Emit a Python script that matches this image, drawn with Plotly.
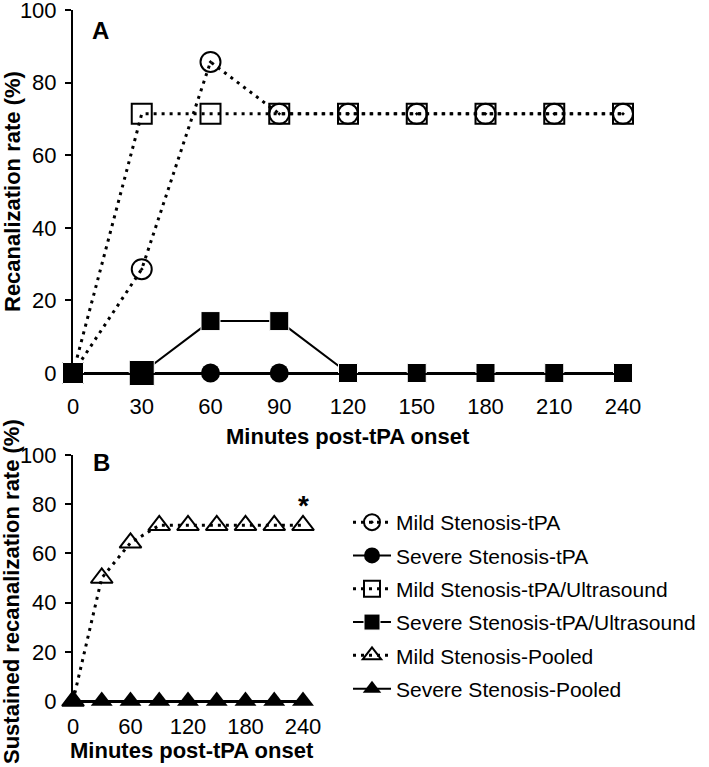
import plotly.graph_objects as go

W, H = 709, 767

# ---------------- data ----------------
minutes = [0, 30, 60, 90, 120, 150, 180, 210, 240]
mild_tpa = [0, 28.6, 85.7, 71.4, 71.4, 71.4, 71.4, 71.4, 71.4]
severe_tpa = [0, 0, 0, 0, 0, 0, 0, 0, 0]
mild_tpa_us = [0, 71.4, 71.4, 71.4, 71.4, 71.4, 71.4, 71.4, 71.4]
severe_tpa_us = [0, 0, 14.3, 14.3, 0, 0, 0, 0, 0]
mild_pooled = [0, 50.0, 64.3, 71.4, 71.4, 71.4, 71.4, 71.4, 71.4]
severe_pooled = [0, 0, 0, 0, 0, 0, 0, 0, 0]

top_xticks = [0, 30, 60, 90, 120, 150, 180, 210, 240]
bottom_xticks = [0, 60, 120, 180, 240]
yticks = [0, 20, 40, 60, 80, 100]
star_pos = (240, 79.5)

FONT = "Arial, Liberation Sans, sans-serif"
DOT = "3px,5px"


def px_x(p):
    return p / W


def px_y(p):
    return 1 - p / H


fig = go.Figure()

common = dict(mode="lines+markers", cliponaxis=False)

fig.add_trace(go.Scatter(
    x=minutes, y=mild_tpa, name="Mild Stenosis-tPA", legendgroup="a",
    line=dict(color="black", width=3, dash=DOT),
    marker=dict(symbol="circle-open-dot", size=20, color="black", opacity=1, line=dict(width=2)),
    xaxis="x", yaxis="y", **common))
fig.add_trace(go.Scatter(
    x=minutes, y=severe_tpa, name="Severe Stenosis-tPA", legendgroup="b",
    line=dict(color="black", width=2),
    marker=dict(symbol="circle", size=19, color="black", opacity=1),
    xaxis="x", yaxis="y", **common))
fig.add_trace(go.Scatter(
    x=minutes, y=mild_tpa_us, name="Mild Stenosis-tPA/Ultrasound", legendgroup="c",
    line=dict(color="black", width=3, dash=DOT),
    marker=dict(symbol="square-open", size=20, color="black", opacity=1, line=dict(width=2)),
    xaxis="x", yaxis="y", **common))
fig.add_trace(go.Scatter(
    x=minutes, y=severe_tpa_us, name="Severe Stenosis-tPA/Ultrasound", legendgroup="d",
    line=dict(color="black", width=2),
    marker=dict(symbol="square", size=[21, 25, 19, 19, 19, 19, 19, 19, 19], color="black", opacity=1),
    xaxis="x", yaxis="y", **common))
fig.add_trace(go.Scatter(
    x=minutes, y=mild_pooled, name="Mild Stenosis-Pooled", legendgroup="e",
    line=dict(color="black", width=3, dash=DOT),
    marker=dict(symbol="triangle-up-open", size=19, color="black", opacity=1, line=dict(width=2)),
    xaxis="x2", yaxis="y2", **common))
fig.add_trace(go.Scatter(
    x=minutes, y=severe_pooled, name="Severe Stenosis-Pooled", legendgroup="f",
    line=dict(color="black", width=2),
    marker=dict(symbol="triangle-up", size=19, color="black", opacity=1),
    xaxis="x2", yaxis="y2", **common))

xax = dict(range=[0, 240], showline=True, linewidth=2, linecolor="black",
           showgrid=False, zeroline=False, ticks="", tickfont=dict(size=22, color="black", family=FONT),
           automargin=False, fixedrange=True, ticklabeloverflow="allow")
yax = dict(range=[0, 100], tickvals=yticks, showline=True, linewidth=2, linecolor="black",
           showgrid=False, zeroline=False, ticks="outside", ticklen=6, tickwidth=2, tickcolor="black",
           tickfont=dict(size=22, color="black", family=FONT), ticklabelstandoff=4,
           automargin=False, fixedrange=True, ticklabeloverflow="allow")

fig.update_layout(
    width=W, height=H, autosize=False,
    margin=dict(l=0, r=0, t=0, b=0),
    paper_bgcolor="white", plot_bgcolor="white",
    font=dict(family=FONT, color="black"),
    xaxis=dict(xax, domain=[px_x(73), px_x(623)], tickvals=top_xticks, anchor="y", ticklabelstandoff=13),
    yaxis=dict(yax, domain=[px_y(373), px_y(10)], anchor="x"),
    xaxis2=dict(xax, domain=[px_x(73), px_x(303)], tickvals=bottom_xticks, anchor="y2", ticklabelstandoff=5),
    yaxis2=dict(yax, domain=[px_y(701), px_y(455)], anchor="x2"),
    showlegend=True,
    legend=dict(x=px_x(348), y=px_y(502), xanchor="left", yanchor="top",
                font=dict(size=21, family=FONT, color="black"),
                traceorder="grouped", tracegroupgap=3, bgcolor="rgba(0,0,0,0)",
                itemwidth=38),
)

ann_font = dict(family=FONT, color="black")
annotations = [
    dict(text="<b>A</b>", x=px_x(100), y=px_y(30), font=dict(ann_font, size=24)),
    dict(text="<b>B</b>", x=px_x(101), y=px_y(462), font=dict(ann_font, size=24)),
    dict(text="<b>Minutes post-tPA onset</b>", x=px_x(348), y=px_y(436), font=dict(ann_font, size=22)),
    dict(text="<b>Minutes post-tPA onset</b>", x=px_x(192), y=px_y(750), font=dict(ann_font, size=22)),
    dict(text="<b>Recanalization rate (%)</b>", x=px_x(13), y=px_y(192), textangle=-90,
         font=dict(ann_font, size=22)),
    dict(text="<b>Sustained recanalization rate (%)</b>", x=px_x(11), y=px_y(592), textangle=-90,
         font=dict(ann_font, size=22)),
]
for a in annotations:
    a.update(xref="paper", yref="paper", showarrow=False, xanchor="center", yanchor="middle")
annotations.append(dict(text="<b>*</b>", x=star_pos[0], y=star_pos[1], xref="x2", yref="y2",
                        showarrow=False, xanchor="center", yanchor="middle",
                        font=dict(ann_font, size=28)))
fig.update_layout(annotations=annotations)

fig.write_html("out.html", config={"displayModeBar": False},
               post_script="document.body.style.margin='0px';")
